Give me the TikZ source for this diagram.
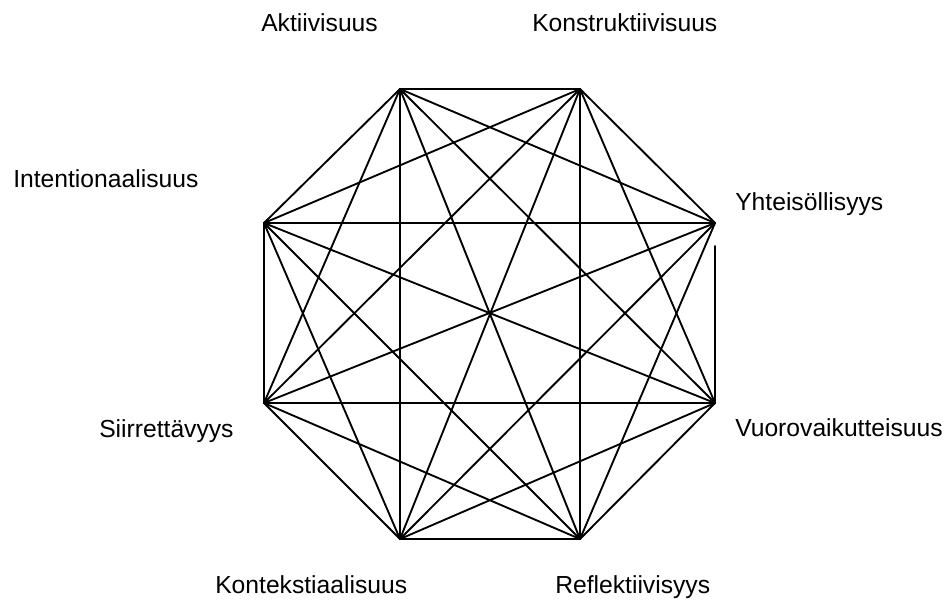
\documentclass[tikz,border=0pt]{standalone}
\usepackage{fontspec}
\setmainfont{Liberation Sans}
\begin{document}
\begin{tikzpicture}[x=0.75pt,y=-0.75pt,
  edge/.style={line width=1.4pt, line cap=round},
  lbl/.style={font=\fontsize{18.5}{21}\selectfont, inner sep=0pt, anchor=base west},
  vtx/.style={coordinate}]
\useasboundingbox (0,0) rectangle (949,601);
% octagon corners
\node[vtx] (a) at (400,89) {};
\node[vtx] (b) at (580,89) {};
\node[vtx] (c) at (715,223) {};
\node[vtx] (d) at (715,403) {};
\node[vtx] (e) at (580,539) {};
\node[vtx] (f) at (400,539) {};
\node[vtx] (g) at (264,403) {};
\node[vtx] (h) at (264,223) {};
\coordinate (cd) at (715,246);
% every pair of corners joined
\foreach \p/\q in {a/b,a/c,a/d,a/e,a/f,a/g,a/h,
                   b/c,b/d,b/e,b/f,b/g,b/h,
                   c/e,c/f,c/g,c/h,
                   d/e,d/f,d/g,d/h,
                   e/f,e/g,e/h,
                   f/g,f/h,
                   g/h}
  \draw[edge] (\p) -- (\q);
\draw[edge] (cd) -- (d);
% labels
\node[lbl] (la) at (261,31) {Aktiivisuus};
\node[lbl] (lb) at (532,31) {Konstruktiivisuus};
\node[lbl] (lh) at (13,187) {Intentionaalisuus};
\node[lbl] (lc) at (735,210) {Yhteisöllisyys};
\node[lbl] (lg) at (99,437) {Siirrettävyys};
\node[lbl] (ld) at (735,436) {Vuorovaikutteisuus};
\node[lbl] (lf) at (215,593) {Kontekstiaalisuus};
\node[lbl] (le) at (555,593) {Reflektiivisyys};
\end{tikzpicture}
\end{document}
